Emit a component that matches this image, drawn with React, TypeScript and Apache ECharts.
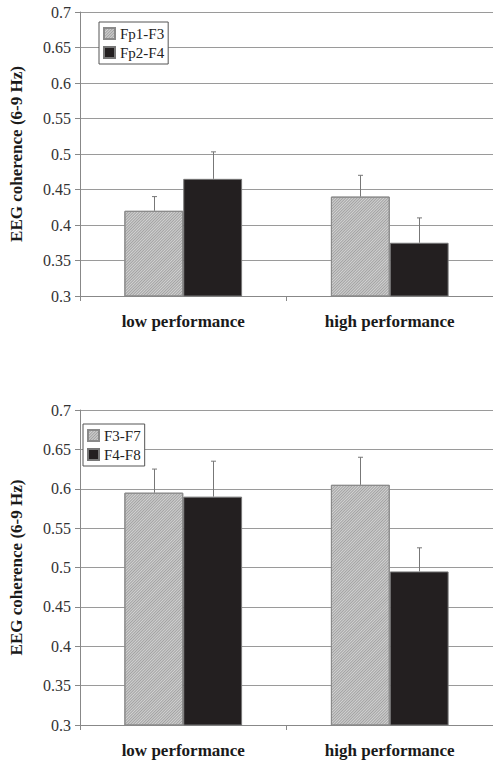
import React, { useEffect, useRef } from "react";
import * as echarts from "echarts";

const categories = ["low performance", "high performance"];

// top panel
const topNames = ["Fp1-F3", "Fp2-F4"];
const topFp1F3 = [0.42, 0.44];
const topFp1F3Err = [0.02, 0.03];
const topFp2F4 = [0.465, 0.375];
const topFp2F4Err = [0.038, 0.035];

// bottom panel
const botNames = ["F3-F7", "F4-F8"];
const botF3F7 = [0.595, 0.605];
const botF3F7Err = [0.03, 0.035];
const botF4F8 = [0.59, 0.495];
const botF4F8Err = [0.045, 0.03];

const yTicks = { min: 0.3, max: 0.7, interval: 0.05 };

const FONT = "Liberation Serif";
const GAP = 0.43;

const hatchStyle = {
  color: "#d2d2d2",
  borderColor: "#8a8a8a",
  borderWidth: 1,
  decal: {
    symbol: "rect",
    symbolSize: 1,
    color: "rgba(130,130,130,0.6)",
    dashArrayX: [1, 0],
    dashArrayY: [1, 1],
    rotation: -Math.PI / 4,
  },
};
const blackStyle = { color: "#231f20", borderColor: "#777", borderWidth: 1 };

function errSeries(gridIdx: number, vals: number[], errs: number[], side: number) {
  return {
    type: "custom",
    xAxisIndex: gridIdx,
    yAxisIndex: gridIdx,
    silent: true,
    z: 5,
    data: vals.map((v, i) => [i, v, errs[i]]),
    encode: { x: 0, y: 1 },
    renderItem: (params: any, api: any) => {
      const i = api.value(0);
      const v = api.value(1);
      const e = api.value(2);
      const p = api.coord([i, v]);
      const q = api.coord([i, v + e]);
      const band = api.size([1, 0])[0];
      const bw = (band * (1 - GAP)) / 2;
      const cx = Math.round(p[0] + side * bw / 2) + 0.5;
      const st = { stroke: "#777", lineWidth: 1 };
      return {
        type: "group",
        children: [
          { type: "line", shape: { x1: cx, y1: p[1], x2: cx, y2: q[1] }, style: st },
          { type: "line", shape: { x1: cx - 2.5, y1: q[1], x2: cx + 2.5, y2: q[1] }, style: st },
        ],
      };
    },
  };
}

function xAxis(gridIndex: number) {
  return {
    type: "category",
    gridIndex,
    data: categories,
    axisLine: { lineStyle: { color: "#888", width: 1 } },
    axisTick: { show: true, length: 5, lineStyle: { color: "#888" } },
    axisLabel: { margin: 17, fontSize: 17, fontWeight: "bold", color: "#1a1a1a", fontFamily: FONT },
  };
}

function yAxis(gridIndex: number) {
  return {
    type: "value",
    gridIndex,
    min: yTicks.min,
    max: yTicks.max,
    interval: yTicks.interval,
    name: "EEG coherence (6-9 Hz)",
    nameLocation: "middle",
    nameRotate: 90,
    nameGap: 55,
    nameTextStyle: { fontSize: 17, fontWeight: "bold", color: "#1a1a1a", fontFamily: FONT },
    axisLine: { show: true, lineStyle: { color: "#888", width: 1 } },
    axisTick: { show: true, length: 5, lineStyle: { color: "#888" } },
    splitLine: { show: true, lineStyle: { color: "#9a9a9a", width: 1 } },
    axisLabel: {
      margin: 9,
      fontSize: 16,
      color: "#333",
      fontFamily: FONT,
      formatter: (v: number) => String(+v.toFixed(2)),
    },
  };
}

function legend(names: string[], left: number, top: number) {
  return {
    data: names,
    orient: "vertical",
    left,
    top,
    padding: [4, 4, 4, 4],
    itemGap: 4,
    itemWidth: 11,
    itemHeight: 11,
    icon: "rect",
    borderColor: "#555",
    borderWidth: 1,
    backgroundColor: "#fff",
    textStyle: { fontSize: 15, color: "#222", fontFamily: FONT },
    selectedMode: false,
  };
}

export default function App() {
  const ref = useRef<HTMLDivElement>(null);
  useEffect(() => {
    if (!ref.current) return;
    const chart = echarts.init(ref.current, undefined, { renderer: "svg" });
    chart.setOption({
      animation: false,
      backgroundColor: "#fff",
      textStyle: { fontFamily: FONT },
      grid: [
        { left: 72, top: 12, width: 424, height: 284 },
        { left: 72, top: 410, width: 432, height: 315 },
      ],
      xAxis: [xAxis(0), xAxis(1)],
      yAxis: [yAxis(0), yAxis(1)],
      legend: [legend(topNames, 99, 22), legend(botNames, 83, 424)],
      series: [
        { name: topNames[0], type: "bar", xAxisIndex: 0, yAxisIndex: 0, data: topFp1F3, barGap: "0%", barCategoryGap: "43%", itemStyle: hatchStyle },
        { name: topNames[1], type: "bar", xAxisIndex: 0, yAxisIndex: 0, data: topFp2F4, barGap: "0%", barCategoryGap: "43%", itemStyle: blackStyle },
        { name: botNames[0], type: "bar", xAxisIndex: 1, yAxisIndex: 1, data: botF3F7, barGap: "0%", barCategoryGap: "43%", itemStyle: hatchStyle },
        { name: botNames[1], type: "bar", xAxisIndex: 1, yAxisIndex: 1, data: botF4F8, barGap: "0%", barCategoryGap: "43%", itemStyle: blackStyle },
        errSeries(0, topFp1F3, topFp1F3Err, -1),
        errSeries(0, topFp2F4, topFp2F4Err, 1),
        errSeries(1, botF3F7, botF3F7Err, -1),
        errSeries(1, botF4F8, botF4F8Err, 1),
      ],
    });
    return () => chart.dispose();
  }, []);
  return (
    <div
      ref={ref}
      style={{ position: "absolute", left: 0, top: 0, width: 493, height: 762 }}
    />
  );
}
